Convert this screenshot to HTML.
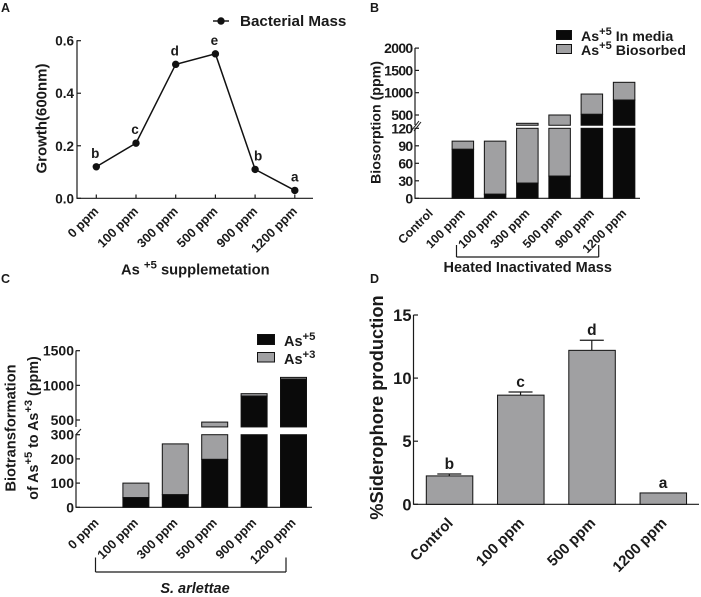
<!DOCTYPE html>
<html>
<head>
<meta charset="utf-8">
<title>Arsenic figure</title>
<style>
html,body{margin:0;padding:0;background:#fff;}
svg{display:block;font-family:"Liberation Sans",Arial,sans-serif;font-weight:bold;fill:#111;}
text{fill:#1a1a1a;}
</style>
</head>
<body>
<svg id="fig" xmlns="http://www.w3.org/2000/svg" width="701" height="597" viewBox="0 0 701 597"></svg>
<script>
/* Panel A */
const aCategories = ['0 ppm','100 ppm','300 ppm','500 ppm','900 ppm','1200 ppm'];
const aValues = [0.12,0.21,0.51,0.55,0.11,0.03];
const aLetters = ['b','c','d','e','b','a'];
const aTicks = [0,0.2,0.4,0.6];
const aTickLabels = ['0.0','0.2','0.4','0.6'];
/* Panel B */
const bCategories = ['Control','100 ppm','100 ppm','300 ppm','500 ppm','900 ppm','1200 ppm'];
const bMedia = [0,84,7,26,38,515,836];
const bTotal = [0,98,98,314,500,970,1233];
const bTicksLow = [0,30,60,90,120];
const bTicksHigh = [500,1000,1500,2000];
/* Panel C */
const cCategories = ['0 ppm','100 ppm','300 ppm','500 ppm','900 ppm','1200 ppm'];
const cAs5 = [0,40,52,198,845,1090];
const cTotal = [0,100,262,470,880,1115];
const cTicksLow = [0,100,200,300];
const cTicksHigh = [500,1000,1500];
/* Panel D */
const dCategories = ['Control','100 ppm','500 ppm','1200 ppm'];
const dValues = [2.25,8.65,12.2,0.9];
const dErrors = [0.15,0.25,0.8,0];
const dLetters = ['b','c','d','a'];
const dTicks = [0,5,10,15];

const svg = document.getElementById('fig');
const NS = 'http://www.w3.org/2000/svg';
function mk(tag, attrs, parent){
  const el = document.createElementNS(NS, tag);
  for(const k in attrs){ el.setAttribute(k, attrs[k]); }
  (parent || svg).appendChild(el);
  return el;
}
function label(name, txt, x, y, size, extra){
  const el = mk('text', Object.assign({x:x, y:y, 'font-size':size}, extra || {}));
  el.textContent = txt;
  
  
  return el;
}
function line(name, x1, y1, x2, y2, w){
  const el = mk('line', {x1:x1, y1:y1, x2:x2, y2:y2, stroke:'#1a1a1a', 'stroke-width':w || 1.2});
  
  
  return el;
}
function box(name, x, y, w, h, fill){
  const el = mk('rect', {x:x, y:y, width:w, height:Math.max(h,0.5), fill:fill, stroke:'#111', 'stroke-width':1});
  
  
  return el;
}
function rotated(name, txt, x, y, size){
  return label(name, txt, x, y, size, {'text-anchor':'end', transform:'rotate(-45 '+x+' '+y+')'});
}
function addParts(el, size, parts){
  parts.forEach(function(p){
    const s = mk('tspan', p[1] ? {'font-size':size*0.78, dy:-size*0.42} : {dy: p[2] ? size*0.42 : 0}, el);
    s.textContent = p[0];
  });
}
function vertical(name, x, y, size, parts, spacing){
  const el = mk('text', {x:x, y:y, 'font-size':size, 'text-anchor':'middle', transform:'rotate(-90 '+x+' '+y+')', 'letter-spacing':spacing || 0});
  
  
  addParts(el, size, parts);
  return el;
}
function supLabel(name, x, y, size, parts, extra){
  const el = mk('text', Object.assign({x:x, y:y, 'font-size':size}, extra || {}));
  
  
  addParts(el, size, parts);
  return el;
}

/* Panel letters */
label('panel-label-a','A',1,12,12.5);
label('panel-label-b','B',370,12,12.5);
label('panel-label-c','C',1,283,12.5);
label('panel-label-d','D',370,283,12.5);

/* ---------- Panel A ---------- */
const aX = function(i){ return 96.3 + i*39.7; };
const aY = function(v){ return 198.3 - v/0.6*157.6; };
line('a-y-axis',77,40.2,77,198.9);
line('a-x-axis',77,198.3,313,198.3);
aTicks.forEach(function(t,i){
  line('a-y-tick',77,aY(t),81,aY(t));
  label('a-y-tick-label',aTickLabels[i],74,aY(t)+5,13.5,{'text-anchor':'end'});
});
aCategories.forEach(function(c,i){
  line('a-x-tick',aX(i),198.3,aX(i),194.5);
  rotated('a-x-tick-label',c,aX(i)+3,212,12.7);
});
const aLine = mk('polyline',{points:aValues.map(function(v,i){return aX(i)+','+aY(v);}).join(' '),fill:'none',stroke:'#111','stroke-width':1.5});


aValues.forEach(function(v,i){
  const p = mk('circle',{cx:aX(i),cy:aY(v),r:3.7,fill:'#111'});
  
  
  const dx = i===4 ? 3 : (i===5 ? 0 : -1);
  label('a-point-letter',aLetters[i],aX(i)+dx,aY(v)-9,13.5,{'text-anchor':'middle'});
});
vertical('a-y-axis-title',46.5,118.5,15,[['Growth(600nm)']]);
line('a-legend-line',213,21,229,21,1.5);
const aLegendDot = mk('circle',{cx:221,cy:21,r:3.7,fill:'#111'});


label('a-legend-label','Bacterial Mass',240,26,15.2);
supLabel('a-x-axis-title',121,274.5,14.7,[['As '],['+5',1],[' supplemetation',0,1]]);

/* ---------- Panel B ---------- */
const bX = function(i){ return 430.6 + i*32.25; };
const bYLow = function(v){ return 198.3 - v*70/120; };
const bYHigh = function(v){ return 115 - (v-500)*22.3/500; };
const bBreak = 270;
line('b-y-axis-upper',415,48,415,125);
line('b-y-axis-lower',415,128,415,198.8);
line('b-x-axis',415,198.3,640,198.3);
line('b-axis-break-1',412,130,419,121,1);
line('b-axis-break-2',414,131,421,122,1);
bTicksLow.forEach(function(t){
  line('b-y-tick',415,bYLow(t),419,bYLow(t));
  label('b-y-tick-label',String(t),412.5,bYLow(t)+5,14,{'text-anchor':'end','letter-spacing':-0.7});
});
bTicksHigh.forEach(function(t){
  line('b-y-tick',415,bYHigh(t),419,bYHigh(t));
  label('b-y-tick-label',String(t),412.5,bYHigh(t)+5,14,{'text-anchor':'end','letter-spacing':-0.7});
});
function bSegment(name,i,a,b,fill){
  if(b<=a) return;
  const w=21.5, x=bX(i)-w/2;
  if(a<120){ box(name,x,bYLow(Math.min(b,120)),w,bYLow(a)-bYLow(Math.min(b,120)),fill); }
  if(b>bBreak){ box(name,x,bYHigh(b),w,bYHigh(Math.max(a,bBreak))-bYHigh(b),fill); }
}
bCategories.forEach(function(c,i){
  bSegment('b-bar-biosorbed',i,bMedia[i],bTotal[i],'#a0a0a2');
  bSegment('b-bar-in-media',i,0,bMedia[i],'#0a0a0a');
  rotated('b-x-tick-label',c,bX(i)+3,214,12.2);
});
vertical('b-y-axis-title',380.5,122.5,14.2,[['Biosorption (ppm)']],0);
box('b-legend-swatch-media',556.5,30.5,15,9,'#0a0a0a');
box('b-legend-swatch-biosorbed',556.5,44.5,15,9,'#a0a0a2');
supLabel('b-legend-label-media',581,41,14.2,[['As'],['+5',1],[' In media',0,1]]);
supLabel('b-legend-label-biosorbed',581,55,14.2,[['As'],['+5',1],[' Biosorbed',0,1]]);
line('b-bracket-left',456.5,245,456.5,257);
line('b-bracket-bottom',456.5,257,598.7,257);
line('b-bracket-right',598.7,245,598.7,257);
label('b-bracket-label','Heated Inactivated Mass',527.7,272,14.5,{'text-anchor':'middle'});

/* ---------- Panel C ---------- */
const cX = function(i){ return 96 + i*39.4; };
const cYLow = function(v){ return 507.3 - v*72.6/300; };
const cYHigh = function(v){ return 420 - (v-500)*0.0693; };
const cBreak = 400;
line('c-y-axis-upper',76,350.5,76,427);
line('c-y-axis-lower',76,434.5,76,507.8);
line('c-x-axis',76,507.3,312,507.3);
line('c-axis-break-1',75.5,435,81,429,1);
cTicksLow.forEach(function(t){
  line('c-y-tick',76,cYLow(t),80,cYLow(t));
  label('c-y-tick-label',String(t),74,cYLow(t)+5,14,{'text-anchor':'end'});
});
cTicksHigh.forEach(function(t){
  line('c-y-tick',76,cYHigh(t),80,cYHigh(t));
  label('c-y-tick-label',String(t),74,cYHigh(t)+5,14,{'text-anchor':'end'});
});
function cSegment(name,i,a,b,fill){
  if(b<=a) return;
  const w=26, x=cX(i)-w/2+0.5;
  if(a<300){ box(name,x,cYLow(Math.min(b,300)),w,cYLow(a)-cYLow(Math.min(b,300)),fill); }
  if(b>cBreak){ box(name,x,cYHigh(b),w,cYHigh(Math.max(a,cBreak))-cYHigh(b),fill); }
}
cCategories.forEach(function(c,i){
  cSegment('c-bar-as3',i,cAs5[i],cTotal[i],'#a0a0a2');
  cSegment('c-bar-as5',i,0,cAs5[i],'#0a0a0a');
  rotated('c-x-tick-label',c,cX(i)+3.5,523.5,12.7);
});
vertical('c-y-axis-title-line-1',15.5,428,14.7,[['Biotransformation']]);
vertical('c-y-axis-title-line-2',38,428,14.3,[['of As'],['+5',1],[' to As',0,1],['+3',1],[' (ppm)',0,1]]);
box('c-legend-swatch-as5',257.5,334.5,17,10,'#0a0a0a');
box('c-legend-swatch-as3',257.5,352.5,17,9.5,'#a0a0a2');
supLabel('c-legend-label-as5',284,346,14.5,[['As'],['+5',1]]);
supLabel('c-legend-label-as3',284,364,14.5,[['As'],['+3',1]]);
line('c-bracket-left',95.5,557.5,95.5,572);
line('c-bracket-bottom',95.5,572,286,572);
line('c-bracket-right',286,557.5,286,572);
label('c-bracket-label','S. arlettae',195,593,14.5,{'text-anchor':'middle','font-style':'italic'});

/* ---------- Panel D ---------- */
const dX = function(i){ return 449.3 + i*71.25; };
const dY = function(v){ return 504.3 - v*189.3/15; };
line('d-y-axis',413.5,315,413.5,504.8);
line('d-x-axis',413.5,504.3,699,504.3);
dTicks.forEach(function(t){
  line('d-y-tick',413.5,dY(t),418,dY(t));
  label('d-y-tick-label',String(t),411.5,dY(t)+6,16.5,{'text-anchor':'end'});
});
dCategories.forEach(function(c,i){
  const top = dY(dValues[i]);
  if(dErrors[i]>0){
    const et = dY(dValues[i]+dErrors[i]);
    line('d-error-stem',dX(i),top,dX(i),et,1.2);
    line('d-error-cap',dX(i)-12,et,dX(i)+12,et,1.2);
    label('d-bar-letter',dLetters[i],dX(i),et-5,15.5,{'text-anchor':'middle'});
  } else {
    label('d-bar-letter',dLetters[i],dX(i),top-5,15.5,{'text-anchor':'middle'});
  }
  box('d-bar',dX(i)-23,top,46.5,504.3-top,'#a0a0a2');
  rotated('d-x-tick-label',c,dX(i)+4.5,524,15);
});
vertical('d-y-axis-title',383,407.5,18.3,[['%Siderophore production']]);
</script>
</body>
</html>
